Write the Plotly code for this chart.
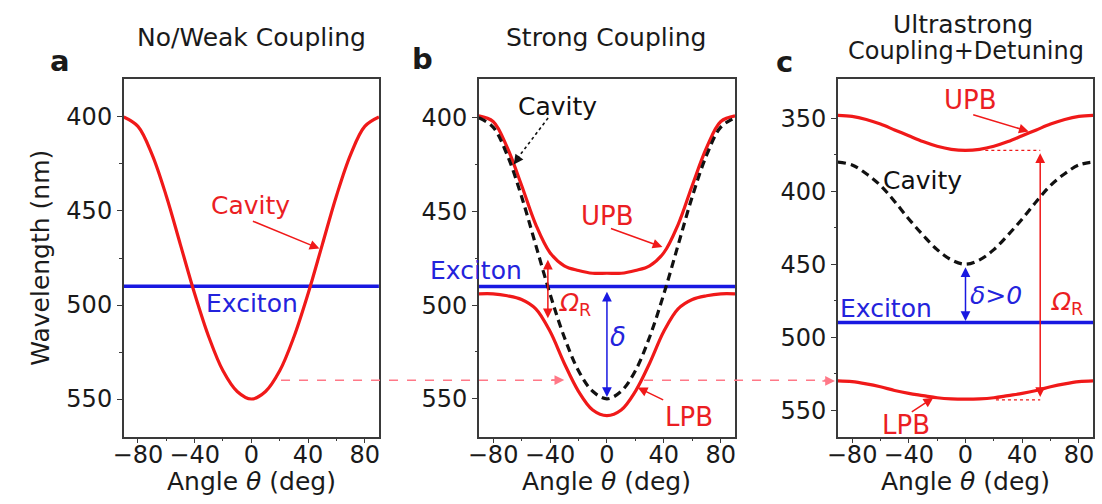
import plotly.graph_objects as go

# ---------------- data ----------------
angles = [-90, -80, -70, -60, -50, -40, -30, -20, -10, 0, 10, 20, 30, 40, 50, 60, 70, 80, 90]
exciton_nm = 490

# panel a: no / weak coupling
cavity_a = [400, 405, 420, 442, 468, 494, 517, 535, 546, 550, 546, 535, 517, 494, 468, 442, 420, 405, 400]

# panel b: strong coupling
cavity_b = [400, 405, 420, 442, 468, 494, 517, 535, 546, 550, 546, 535, 517, 494, 468, 442, 420, 405, 400]
upb_b = [399, 402, 416, 436, 457, 472, 479, 481.5, 483, 483, 483, 481.5, 479, 472, 457, 436, 416, 402, 399]
lpb_b = [494, 494, 495, 497, 502, 514, 531, 546, 556, 559, 556, 546, 531, 514, 502, 497, 495, 494, 494]

# panel c: ultrastrong coupling + detuning
cavity_c = [380, 382, 388, 396, 407, 419, 430, 440, 447, 450, 447, 440, 430, 419, 407, 396, 388, 382, 380]
upb_c = [348, 348.7, 350.8, 354, 358, 362, 366, 369.2, 371.3, 372, 371.3, 369.2, 366, 362, 358, 354, 350.8, 348.7, 348]
lpb_c = [530, 530.5, 532, 534, 536.5, 538.5, 540, 541.5, 542.3, 542.5, 542.3, 541.5, 540, 538.5, 536.5, 534, 532, 530.5, 530]

x_tick_vals = [-80, -40, 0, 40, 80]
y_ticks_ab = [400, 450, 500, 550]
y_ticks_c = [350, 400, 450, 500, 550]

# ---------------- style ----------------
W, H = 1102, 504
FONT = "DejaVu Sans"
RED = "rgb(240,25,25)"
RED_T = "rgb(235,30,35)"
BLUE = "rgb(25,25,225)"
BLUE_T = "rgb(35,35,220)"
BLACK = "#111111"
PINK = "rgb(255,120,135)"
AXC = "#3a3a3a"
TICK_SIZE = 24


def px(x):
    return x / W


def py(y):
    return 1 - y / H


fig = go.Figure()

exc_x = [angles[0], angles[-1]]

# panel a
fig.add_trace(go.Scatter(x=exc_x, y=[exciton_nm, exciton_nm], mode="lines",
                         line=dict(color=BLUE, width=3.5), xaxis="x", yaxis="y"))
fig.add_trace(go.Scatter(x=angles, y=cavity_a, mode="lines", line_shape="spline",
                         line=dict(color=RED, width=3.2), xaxis="x", yaxis="y"))
# panel b
fig.add_trace(go.Scatter(x=exc_x, y=[exciton_nm, exciton_nm], mode="lines",
                         line=dict(color=BLUE, width=3.5), xaxis="x2", yaxis="y2"))
fig.add_trace(go.Scatter(x=angles, y=upb_b, mode="lines", line_shape="spline",
                         line=dict(color=RED, width=3.2), xaxis="x2", yaxis="y2"))
fig.add_trace(go.Scatter(x=angles, y=lpb_b, mode="lines", line_shape="spline",
                         line=dict(color=RED, width=3.2), xaxis="x2", yaxis="y2"))
fig.add_trace(go.Scatter(x=angles, y=cavity_b, mode="lines", line_shape="spline",
                         line=dict(color=BLACK, width=3.2, dash="8px,5px"), xaxis="x2", yaxis="y2"))
# panel c
fig.add_trace(go.Scatter(x=exc_x, y=[exciton_nm, exciton_nm], mode="lines",
                         line=dict(color=BLUE, width=3.5), xaxis="x3", yaxis="y3"))
fig.add_trace(go.Scatter(x=angles, y=upb_c, mode="lines", line_shape="spline",
                         line=dict(color=RED, width=3.2), xaxis="x3", yaxis="y3"))
fig.add_trace(go.Scatter(x=angles, y=lpb_c, mode="lines", line_shape="spline",
                         line=dict(color=RED, width=3.2), xaxis="x3", yaxis="y3"))
fig.add_trace(go.Scatter(x=angles, y=cavity_c, mode="lines", line_shape="spline",
                         line=dict(color=BLACK, width=3.2, dash="8px,5px"), xaxis="x3", yaxis="y3"))

# ---------------- axes ----------------
def xax(domain, anchor):
    return dict(domain=domain, anchor=anchor, range=[-90, 90], tickvals=x_tick_vals,
                showgrid=False, zeroline=False, showline=True, mirror=True,
                linecolor=AXC, linewidth=1.6, ticks="outside", ticklen=4, tickwidth=1.3,
                tickcolor=AXC, tickfont=dict(family=FONT, size=TICK_SIZE, color="#1a1a1a"),
                ticklabelstandoff=-9,
                minor=dict(tickvals=[-60, -20, 20, 60], ticks="outside", ticklen=2.5,
                           tickcolor=AXC, tickwidth=1.2),
                fixedrange=True)


def yax(domain, anchor, rng, tickvals, minor_vals):
    return dict(domain=domain, anchor=anchor, range=rng, tickvals=tickvals,
                showgrid=False, zeroline=False, showline=True, mirror=True,
                linecolor=AXC, linewidth=1.6, ticks="outside", ticklen=5, tickwidth=1.3,
                tickcolor=AXC, tickfont=dict(family=FONT, size=TICK_SIZE, color="#1a1a1a"),
                minor=dict(tickvals=minor_vals, ticks="outside", ticklen=2.5,
                           tickcolor=AXC, tickwidth=1.2),
                fixedrange=True)


ydom = [py(437), py(79)]
fig.update_layout(
    xaxis=xax([px(114), px(372)], "y"),
    yaxis=yax(ydom, "x", [570.2, 379.8], y_ticks_ab, [425, 475, 525]),
    xaxis2=xax([px(473), px(732)], "y2"),
    yaxis2=yax(ydom, "x2", [570.4, 379.3], y_ticks_ab, [425, 475, 525]),
    xaxis3=xax([px(836), px(1094)], "y3"),
    yaxis3=yax(ydom, "x3", [568.4, 323.1], y_ticks_c, [375, 425, 475, 525]),
)

ann = []


def text(x, y, s, size=24, color="#1a1a1a", bold=False, angle=0):
    ann.append(dict(x=px(x), y=py(y), xref="paper", yref="paper", text=s, showarrow=False,
                    xanchor="center", yanchor="middle", textangle=angle,
                    font=dict(family=FONT, size=size, color=color,
                              weight="bold" if bold else "normal")))


def arrow(ax_name, x, y, axp, ayp, color, width=1.5, head=2, size=1.3):
    # head at data (x, y), tail offset in pixels
    ann.append(dict(x=x, y=y, xref=ax_name[0], yref=ax_name[1], ax=axp, ay=ayp,
                    axref="pixel", ayref="pixel", text="", showarrow=True,
                    arrowhead=head, arrowsize=size, arrowwidth=width, arrowcolor=color))


def dbl_arrow(ax_name, x, y0, y1, color, width=1.5, size=1.3):
    ann.append(dict(x=x, y=y1, xref=ax_name[0], yref=ax_name[1], ax=x, ay=y0,
                    axref=ax_name[0], ayref=ax_name[1], text="", showarrow=True,
                    arrowhead=2, startarrowhead=2, arrowside="end+start",
                    arrowsize=size, startarrowsize=size, arrowwidth=width, arrowcolor=color))


# titles and panel letters
text(243, 38, "No/Weak Coupling", size=25)
text(602, 38, "Strong Coupling", size=25)
text(962, 24, "Ultrastrong", size=25)
text(966, 51, "Coupling+Detuning", size=24)
text(50, 61, "a", size=29, bold=True)
text(416, 59, "b", size=29, bold=True)
text(782, 62, "c", size=29, bold=True)

# axis titles
text(29, 258, "Wavelength (nm)", size=25, angle=-90)
for cx in (243, 602, 965):
    text(cx, 481, "Angle <i>θ</i> (deg)", size=25)

# panel a labels
text(242, 205, "Cavity", size=25, color=RED_T)
text(244, 303, "Exciton", size=25, color=BLUE_T)
arrow(("x", "y"), 48, 470, -68, -28, RED)

# panel b labels
text(553, 106, "Cavity", size=25, color=BLACK)
text(603, 216, "UPB", size=26, color=RED_T)
text(470, 270, "Exciton", size=25, color=BLUE_T)
text(570, 304, "<i>Ω</i><sub>R</sub>", size=25, color=RED_T)
text(614, 337, "<i>δ</i>", size=26, color=BLUE_T)
text(685, 417, "LPB", size=26, color=RED_T)
arrow(("x2", "y2"), 39, 469, -53, -19, RED)
arrow(("x2", "y2"), 21.6, 544, 27, 13, RED)
arrow(("x2", "y2"), -65.5, 425, 5, -7, BLACK, width=1.5)
dbl_arrow(("x2", "y2"), -41.5, 475, 507, RED)
dbl_arrow(("x2", "y2"), 0, 492, 549, BLUE)
arrow(("x2", "y2"), -30, 540, -14, 0, PINK, width=1.5)

# panel c labels
text(970, 100, "UPB", size=26, color=RED_T)
text(922, 180, "Cavity", size=25, color=BLACK)
text(996, 295, "<i>δ>0</i>", size=25, color=BLUE_T)
text(885, 308, "Exciton", size=25, color=BLUE_T)
text(1068, 303, "<i>Ω</i><sub>R</sub>", size=25, color=RED_T)
text(905, 425, "LPB", size=26, color=RED_T)
arrow(("x3", "y3"), 44.6, 359, -57, -17, RED)
arrow(("x3", "y3"), -22.7, 541.5, -23, 15, RED)
dbl_arrow(("x3", "y3"), 52.7, 373, 541, RED)
dbl_arrow(("x3", "y3"), 0, 451, 489, BLUE)
ann.append(dict(x=px(833), y=530, xref="paper", yref="y3", ax=-14, ay=0, text="",
                showarrow=True, arrowhead=2, arrowsize=1.3, arrowwidth=1.5, arrowcolor=PINK))

fig.update_layout(annotations=ann)

shapes = [
    # pink dashed guide line across panels (LPB minimum of a -> b -> c)
    dict(type="line", xref="paper", yref="y", x0=px(273), x1=px(552), y0=540, y1=540,
         line=dict(color=PINK, width=1.5, dash="dash")),
    dict(type="line", xref="paper", yref="y", x0=px(640), x1=px(826), y0=540, y1=540,
         line=dict(color=PINK, width=1.5, dash="dash")),
    # dotted Cavity pointer in b
    dict(type="line", xref="paper", yref="paper", x0=px(543), y0=py(118), x1=px(510), y1=py(161),
         line=dict(color=BLACK, width=1.6, dash="dot")),
    # dotted guides in c
    dict(type="line", xref="x3", yref="y3", x0=14, x1=52.7, y0=372, y1=372,
         line=dict(color=RED, width=1.3, dash="dot")),
    dict(type="line", xref="x3", yref="y3", x0=21.5, x1=52.7, y0=543, y1=543,
         line=dict(color=RED, width=1.3, dash="dot")),
]
fig.update_layout(shapes=shapes)

fig.update_layout(width=W, height=H, margin=dict(l=0, r=0, t=0, b=0),
                  paper_bgcolor="white", plot_bgcolor="white", showlegend=False,
                  font=dict(family=FONT))

fig.write_html("out.html", config={"displayModeBar": False})
